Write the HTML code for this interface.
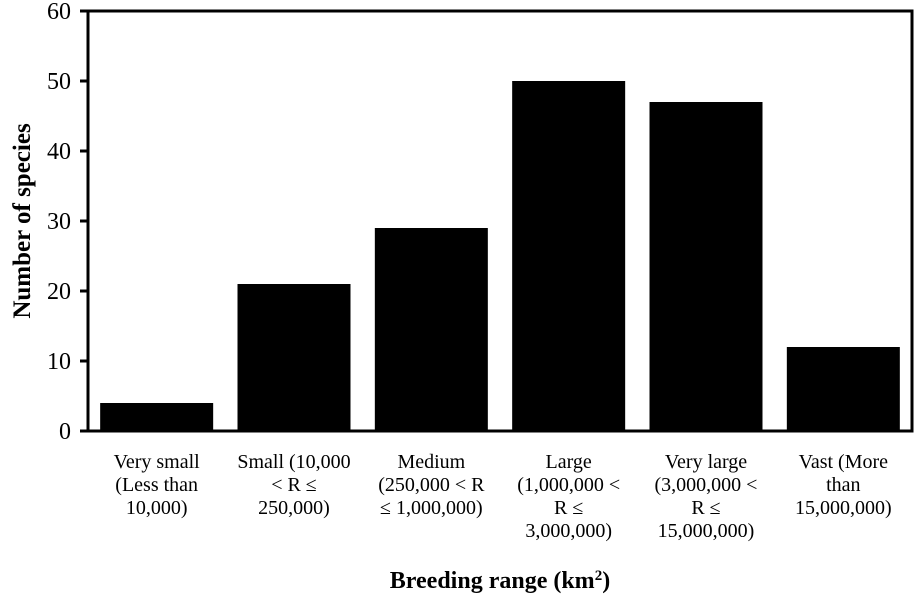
<!DOCTYPE html>
<html><head><meta charset="utf-8"><style>
html,body{margin:0;padding:0;background:#fff;}
svg text{font-family:"Liberation Serif",serif;fill:#000;}
</style></head><body>
<svg id="chart" width="917" height="602" xmlns="http://www.w3.org/2000/svg">
<g id="bars"></g>
<rect x="88" y="11" width="824" height="420" fill="none" stroke="#000" stroke-width="3"/>
<g id="yaxis"></g>
<g id="xlabels"></g>
<text transform="translate(30,221) rotate(-90)" text-anchor="middle" font-size="25" font-weight="bold">Number of species</text>
<text x="500" y="588" text-anchor="middle" font-size="24" font-weight="bold">Breeding range (km<tspan dy="-8" font-size="15">2</tspan><tspan dy="8">)</tspan></text>
</svg>
<script>
const categories = [
  ["Very small","(Less than","10,000)"],
  ["Small (10,000","< R \u2264","250,000)"],
  ["Medium","(250,000 < R","\u2264 1,000,000)"],
  ["Large","(1,000,000 <","R \u2264","3,000,000)"],
  ["Very large","(3,000,000 <","R \u2264","15,000,000)"],
  ["Vast (More","than","15,000,000)"]
];
const values = [4, 21, 29, 50, 47, 12];
const yTicks = [0, 10, 20, 30, 40, 50, 60];

const NS = "http://www.w3.org/2000/svg";
const plotLeft = 88, plotRight = 912, plotTop = 11, plotBottom = 431, yMax = 60;
const band = (plotRight - plotLeft) / categories.length;
const barW = 113;
function yScale(v){ return plotBottom - (v / yMax) * (plotBottom - plotTop); }
function xCenter(i){ return plotLeft + band * (i + 0.5); }

const barsG = document.getElementById("bars");
values.forEach((v, i) => {
  const r = document.createElementNS(NS, "rect");
  
  
  r.setAttribute("x", xCenter(i) - barW / 2);
  r.setAttribute("y", yScale(v));
  r.setAttribute("width", barW);
  r.setAttribute("height", plotBottom - yScale(v));
  r.setAttribute("fill", "#000");
  barsG.appendChild(r);
});

const yG = document.getElementById("yaxis");
yTicks.forEach(t => {
  const y = yScale(t);
  const l = document.createElementNS(NS, "line");
  
  
  l.setAttribute("x1", 80); l.setAttribute("x2", 88);
  l.setAttribute("y1", y); l.setAttribute("y2", y);
  l.setAttribute("stroke", "#000"); l.setAttribute("stroke-width", "3");
  yG.appendChild(l);
  const tx = document.createElementNS(NS, "text");
  
  
  tx.setAttribute("x", 71); tx.setAttribute("y", y + 8);
  tx.setAttribute("text-anchor", "end"); tx.setAttribute("font-size", "24");
  tx.textContent = t;
  yG.appendChild(tx);
});

const xG = document.getElementById("xlabels");
categories.forEach((lines, i) => {
  const tx = document.createElementNS(NS, "text");
  
  
  tx.setAttribute("text-anchor", "middle");
  tx.setAttribute("font-size", "20");
  lines.forEach((s, j) => {
    const sp = document.createElementNS(NS, "tspan");
    sp.setAttribute("x", xCenter(i));
    sp.setAttribute("y", 468 + j * 23);
    sp.textContent = s;
    tx.appendChild(sp);
  });
  xG.appendChild(tx);
});
</script>
</body></html>
